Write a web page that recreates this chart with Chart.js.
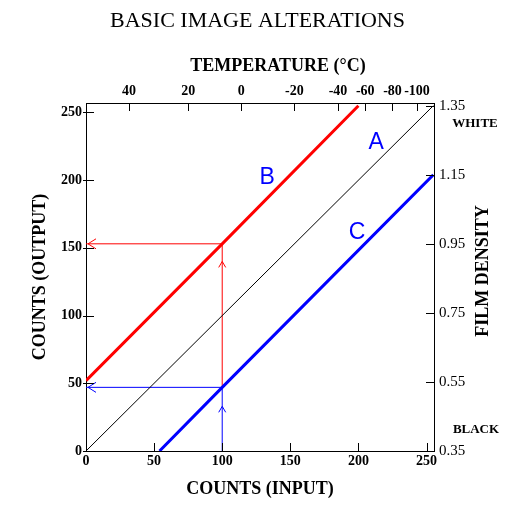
<!DOCTYPE html>
<html>
<head>
<meta charset="utf-8">
<script src="https://cdn.jsdelivr.net/npm/chart.js@4.4.1/dist/chart.umd.min.js"></script>
<style>
  body { margin: 0; background: #fff; }
  canvas { display: block; }
</style>
</head>
<body>
<canvas id="grafico" width="515" height="511"></canvas>
<script>
// axis ticks
const inputTicks = [0, 50, 100, 150, 200, 250];
const outputTicks = [0, 50, 100, 150, 200, 250];
const densityTicks = [0.35, 0.55, 0.75, 0.95, 1.15, 1.35];
const tempLabels = [40, 20, 0, -20, -40, -60, -80, -100];
const tempAtCount = [31.5, 75, 114, 153, 185, 205, 225, 243];

// curves (input count, output count)
const lineA = [[0, 0], [255, 255]];
const lineB = [[0, 52], [100, 153], [200, 255]];
const lineC = [[54, 0], [100, 47], [255, 204]];

// the worked example at input 100
const inputPick = 100;
const outputB = 153;
const outputC = 47;

const curveNames = ['A', 'B', 'C'];
const curveNameX = [213, 133, 199];
const curveNameY = [228, 202, 161];

const arrowX = [0, 100, 0, 100];
const arrowY = [153, 140, 47, 33];
const arrowDir = ['left', 'up', 'left', 'up'];

const RED = '#ff0000';
const BLUE = '#0000ff';
const arrowColor = [RED, RED, BLUE, BLUE];

const tickFont = { family: 'Liberation Serif', weight: 'bold', size: 14 };
const titleFont = { family: 'Liberation Serif', weight: 'bold', size: 18 };

function toPoints(arr) {
  return arr.map(p => ({ x: p[0], y: p[1] }));
}

function seg(data, color, width) {
  return {
    data: data,
    borderColor: color,
    borderWidth: width,
    showLine: true,
    pointRadius: 0,
    fill: false
  };
}

const insideTicks = {
  id: 'insideTicks',
  afterDraw(chart) {
    const ctx = chart.ctx;
    const a = chart.chartArea;
    const len = 8;
    const s = chart.scales;
    ctx.save();
    ctx.strokeStyle = '#000';
    ctx.lineWidth = 1;
    ctx.beginPath();
    s.x.ticks.forEach(t => {
      const px = Math.round(s.x.getPixelForValue(t.value)) + 0.5;
      ctx.moveTo(px, a.bottom);
      ctx.lineTo(px, a.bottom - len);
    });
    s.x2.ticks.forEach(t => {
      const px = Math.round(s.x2.getPixelForValue(t.value)) + 0.5;
      ctx.moveTo(px, a.top);
      ctx.lineTo(px, a.top + len);
    });
    s.y.ticks.forEach(t => {
      const py = Math.round(s.y.getPixelForValue(t.value)) + 0.5;
      ctx.moveTo(a.left - 3, py);
      ctx.lineTo(a.left + len, py);
    });
    s.y2.ticks.forEach(t => {
      const py = Math.round(s.y2.getPixelForValue(t.value)) + 0.5;
      ctx.moveTo(a.right, py);
      ctx.lineTo(a.right - len, py);
    });
    ctx.stroke();
    ctx.restore();
  }
};

const extras = {
  id: 'extras',
  afterDatasetsDraw(chart) {
    const ctx = chart.ctx;
    const x = chart.scales.x;
    const y = chart.scales.y;
    ctx.save();
    ctx.lineWidth = 1;
    arrowX.forEach((v, i) => {
      const px = x.getPixelForValue(v);
      const py = y.getPixelForValue(arrowY[i]);
      ctx.strokeStyle = arrowColor[i];
      ctx.beginPath();
      if (arrowDir[i] === 'left') {
        ctx.moveTo(px + 10, py - 5);
        ctx.lineTo(px + 2, py);
        ctx.lineTo(px + 10, py + 5);
      } else {
        ctx.moveTo(px - 3.5, py + 6);
        ctx.lineTo(px, py);
        ctx.lineTo(px + 3.5, py + 6);
      }
      ctx.stroke();
    });

    ctx.fillStyle = BLUE;
    ctx.font = '23px "Liberation Sans"';
    ctx.textAlign = 'center';
    ctx.textBaseline = 'middle';
    curveNames.forEach((n, i) => {
      ctx.fillText(n, x.getPixelForValue(curveNameX[i]), y.getPixelForValue(curveNameY[i]));
    });
    ctx.restore();
  },
  afterDraw(chart) {
    const ctx = chart.ctx;
    ctx.save();
    ctx.fillStyle = '#000';
    ctx.textAlign = 'center';
    ctx.textBaseline = 'middle';
    ctx.font = 'bold 18px "Liberation Serif"';
    ctx.fillText('TEMPERATURE (\u00b0C)', 278, 66);
    ctx.font = 'bold 13px "Liberation Serif"';
    ctx.fillText('WHITE', 475, 124);
    ctx.fillText('BLACK', 476, 430);
    ctx.translate(483, 271);
    ctx.rotate(-Math.PI / 2);
    ctx.font = 'bold 18px "Liberation Serif"';
    ctx.fillText('FILM DENSITY', 0, 0);
    ctx.restore();
  }
};

const lineaBorde = { display: true, color: '#000', width: 1 };

new Chart(document.getElementById('grafico'), {
  type: 'scatter',
  data: {
    datasets: [
      seg(toPoints(lineA), '#000', 1),
      seg(toPoints(lineB), RED, 3),
      seg(toPoints(lineC), BLUE, 3),
      seg([{ x: 0, y: outputB }, { x: inputPick, y: outputB }], RED, 1),
      seg([{ x: inputPick, y: outputC }, { x: inputPick, y: outputB }], RED, 1),
      seg([{ x: 0, y: outputC }, { x: inputPick, y: outputC }], BLUE, 1),
      seg([{ x: inputPick, y: 0 }, { x: inputPick, y: outputC }], BLUE, 1)
    ]
  },
  options: {
    responsive: false,
    animation: false,
    layout: { padding: 0 },
    plugins: {
      legend: { display: false },
      tooltip: { enabled: false },
      title: {
        display: true,
        text: 'BASIC IMAGE ALTERATIONS',
        color: '#000',
        font: { family: 'Liberation Serif', weight: 'normal', size: 22 },
        padding: { top: 8, bottom: 5 }
      }
    },
    scales: {
      x: {
        type: 'linear',
        position: 'bottom',
        min: 0,
        max: 255.5,
        afterBuildTicks: s => { s.ticks = inputTicks.map(v => ({ value: v })); },
        afterFit: s => { s.height = 60; },
        grid: { display: false, drawTicks: false },
        border: lineaBorde,
        ticks: { color: '#000', font: tickFont, padding: 2, maxRotation: 0, autoSkip: false },
        title: { display: true, text: 'COUNTS (INPUT)', color: '#000', font: titleFont, padding: { top: 0, bottom: 11 } }
      },
      x2: {
        type: 'linear',
        position: 'top',
        min: 0,
        max: 255.5,
        afterBuildTicks: s => { s.ticks = tempAtCount.map(v => ({ value: v })); },
        afterFit: s => { s.height = 103 - 39.4; },
        grid: { display: false, drawTicks: false },
        border: lineaBorde,
        ticks: {
          color: '#000', font: tickFont, padding: 3, maxRotation: 0, autoSkip: false,
          callback: (v, i) => String(tempLabels[i])
        }
      },
      y: {
        type: 'linear',
        position: 'left',
        min: 0,
        max: 257,
        afterBuildTicks: s => { s.ticks = outputTicks.map(v => ({ value: v })); },
        afterFit: s => { s.width = 86; },
        grid: { display: false, drawTicks: false },
        border: lineaBorde,
        ticks: { color: '#000', font: tickFont, padding: 4, autoSkip: false },
        title: { display: true, text: 'COUNTS (OUTPUT)', color: '#000', font: titleFont, padding: { top: 30, bottom: 0 } }
      },
      y2: {
        type: 'linear',
        position: 'right',
        min: 0.35,
        max: 0.35 + 257 / 255,
        afterBuildTicks: s => { s.ticks = densityTicks.map(v => ({ value: v })); },
        afterFit: s => { s.width = 81; },
        grid: { display: false, drawTicks: false },
        border: lineaBorde,
        ticks: {
          color: '#000', font: { family: 'Liberation Serif', size: 15 }, padding: 5, autoSkip: false,
          callback: v => v.toFixed(2)
        }
      }
    }
  },
  plugins: [insideTicks, extras]
});
</script>
</body>
</html>
